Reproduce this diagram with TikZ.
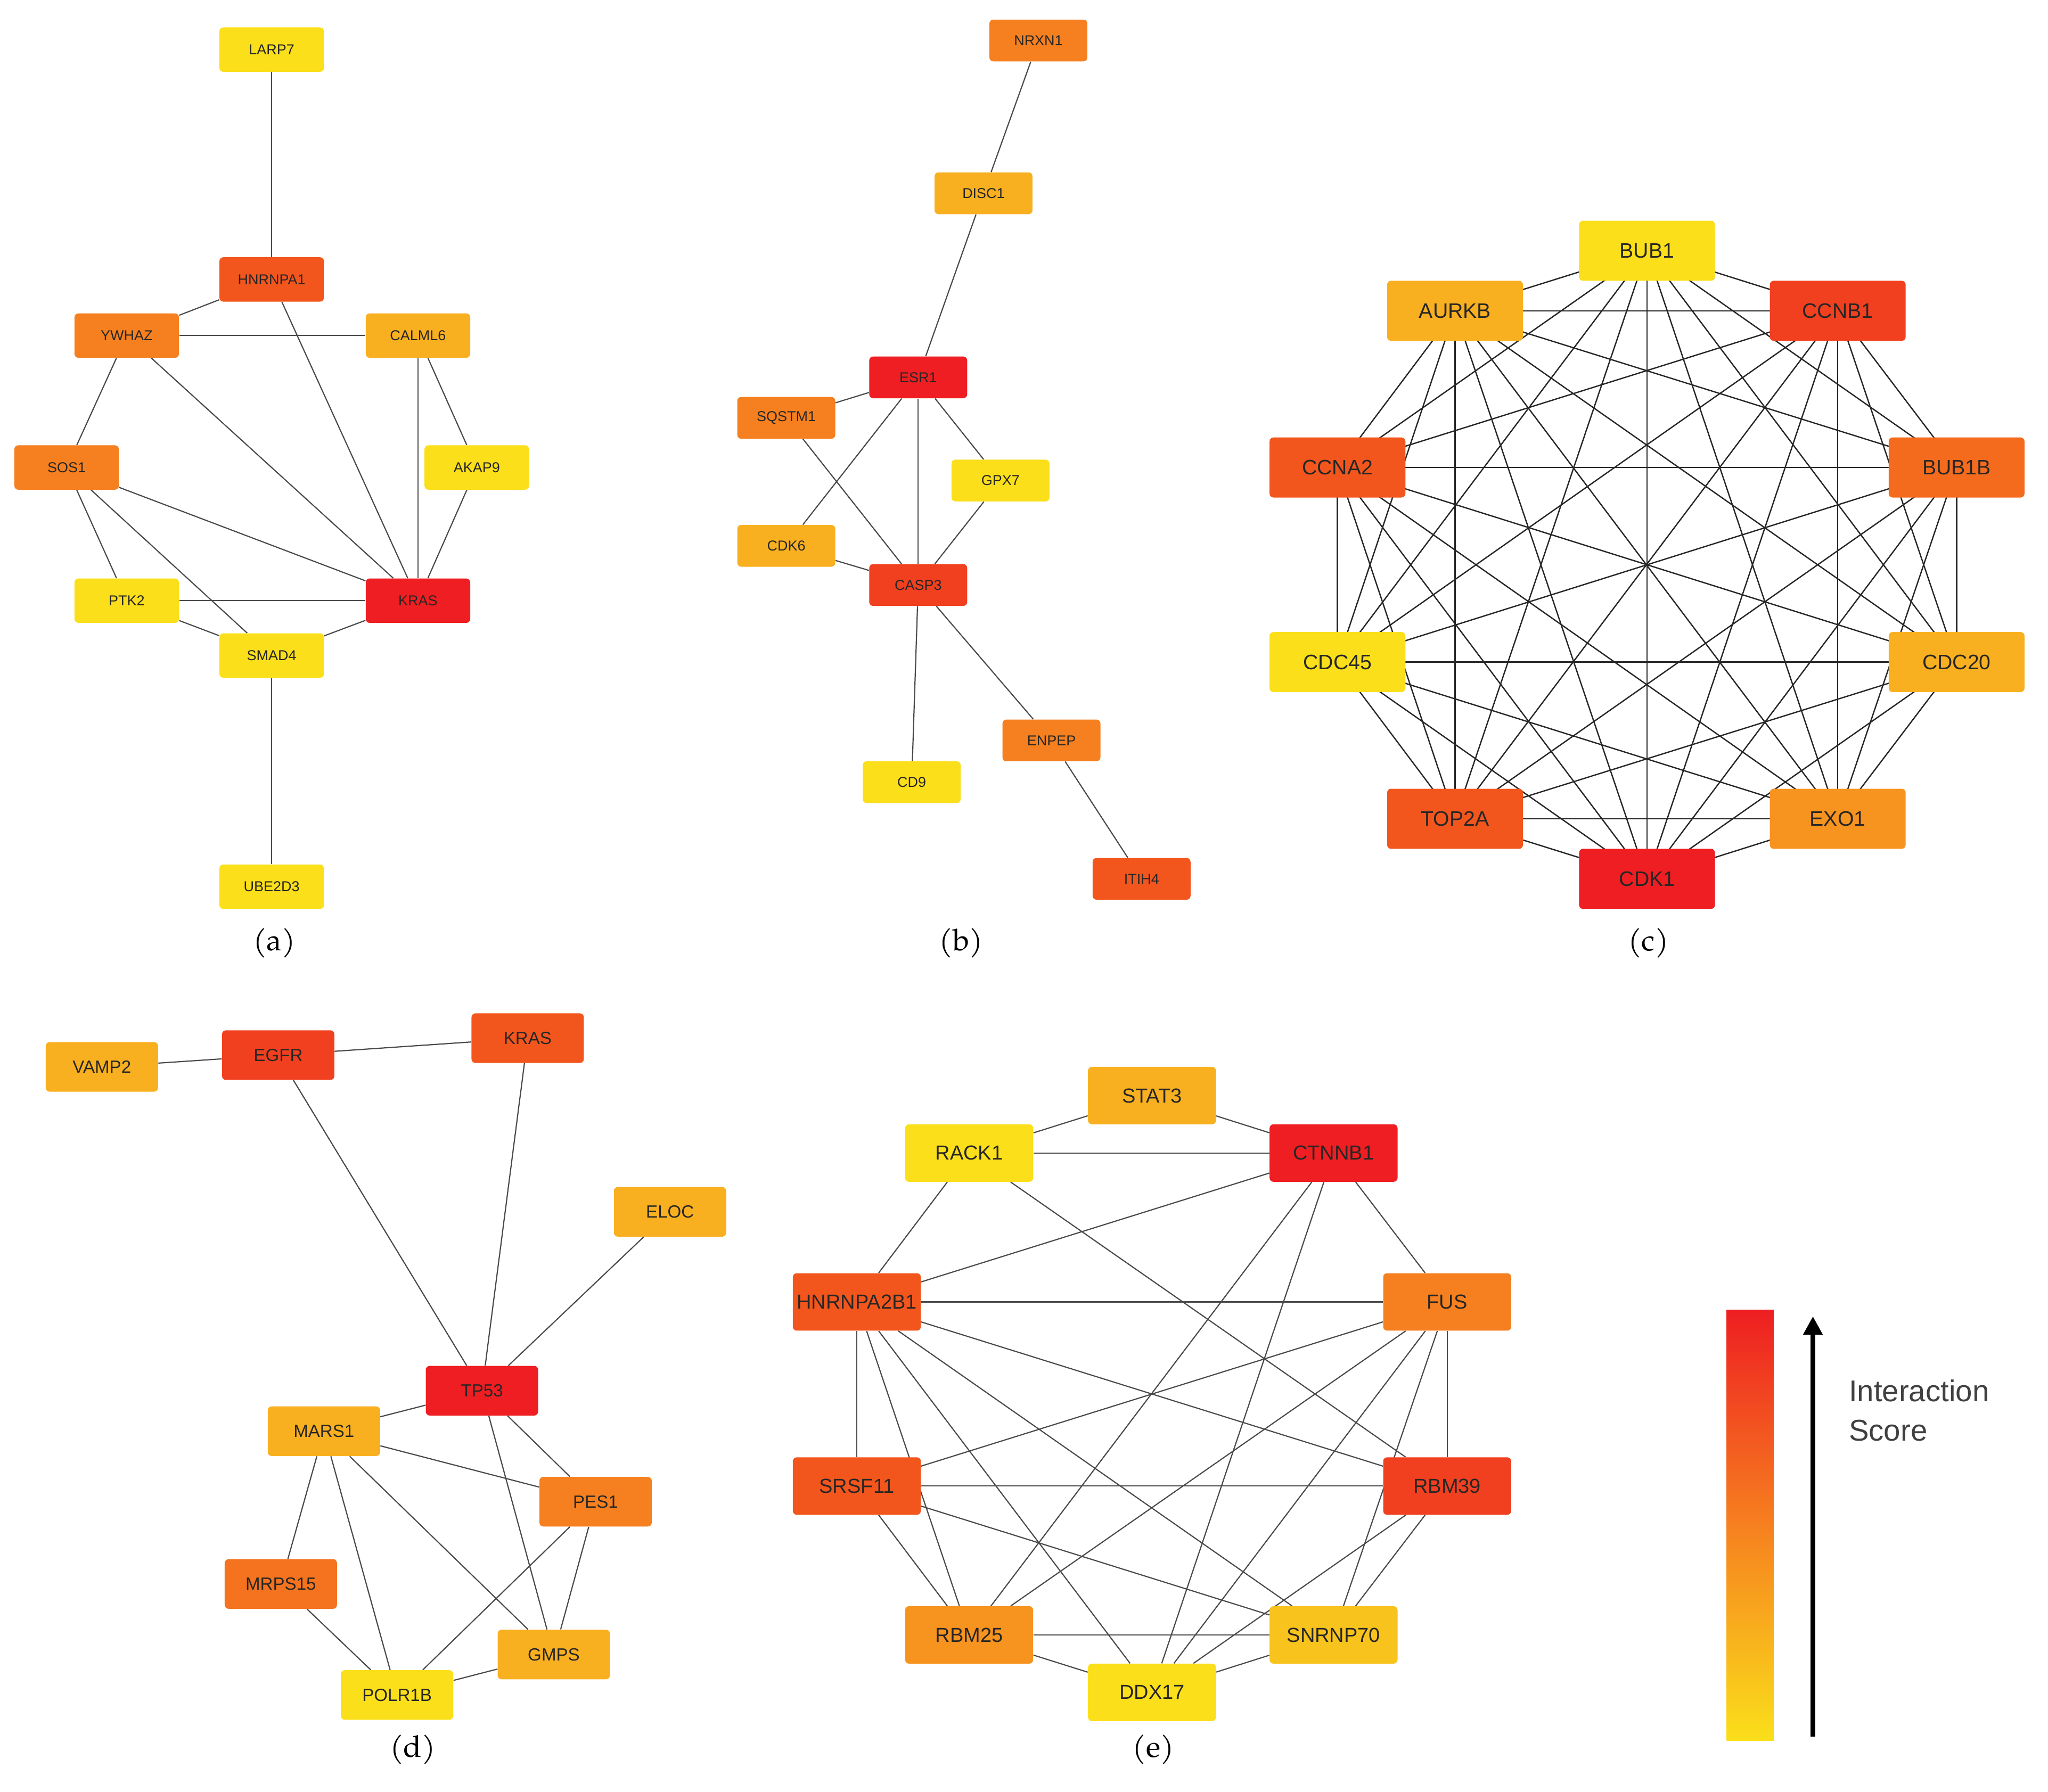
\documentclass[tikz,border=0pt]{standalone}
\usepackage{fontspec}
\setmainfont{Liberation Sans}
\newfontfamily\capfont{TeX Gyre Pagella}
\usetikzlibrary{backgrounds,arrows.meta}
\definecolor{cY}{HTML}{FADF1A}
\definecolor{cL}{HTML}{F9B020}
\definecolor{cO}{HTML}{F6801F}
\definecolor{cR}{HTML}{F3561D}
\definecolor{cX}{HTML}{EE1E22}
\definecolor{edge}{HTML}{4A4A4A}
\tikzset{
 nd/.style={rectangle,rounded corners=3pt,inner sep=0pt,text=black!85},
 sa/.style={nd,minimum width=80pt,minimum height=34pt,font=\fontsize{11}{12}\selectfont},
 sb/.style={nd,minimum width=75pt,minimum height=32pt,font=\fontsize{11}{12}\selectfont},
 sc/.style={nd,minimum width=104pt,minimum height=46pt,font=\fontsize{16}{18}\selectfont},
 sd/.style={nd,minimum width=86pt,minimum height=38pt,font=\fontsize{13.5}{15}\selectfont},
 se/.style={nd,minimum width=98pt,minimum height=44pt,font=\fontsize{15.5}{17}\selectfont},
 ed/.style={draw=edge,line width=0.9pt},
 edc/.style={draw=black!85,line width=1pt},
 capt/.style={font=\capfont\fontsize{23}{26}\selectfont},
}
\begin{document}
\begin{tikzpicture}[x=1pt,y=-1pt]
\useasboundingbox (0,0) rectangle (1568,1372);
% (a)
\node[sa,fill=cY] (aLARP7) at (208,38) {LARP7};
\node[sa,fill=cR] (aHNRNPA1) at (208,214) {HNRNPA1};
\node[sa,fill=cO] (aYWHAZ) at (97,257) {YWHAZ};
\node[sa,fill=cL] (aCALML6) at (320,257) {CALML6};
\node[sa,fill=cO] (aSOS1) at (51,358) {SOS1};
\node[sa,fill=cY] (aAKAP9) at (365,358) {AKAP9};
\node[sa,fill=cY] (aPTK2) at (97,460) {PTK2};
\node[sa,fill=cX] (aKRAS) at (320,460) {KRAS};
\node[sa,fill=cY] (aSMAD4) at (208,502) {SMAD4};
\node[sa,fill=cY] (aUBE2D3) at (208,679) {UBE2D3};
% (b)
\node[sb,fill=cO] (bNRXN1) at (795,31) {NRXN1};
\node[sb,fill=cL] (bDISC1) at (753,148) {DISC1};
\node[sb,fill=cX] (bESR1) at (703,289) {ESR1};
\node[sb,fill=cO] (bSQSTM1) at (602,320) {SQSTM1};
\node[sb,fill=cY] (bGPX7) at (766,368) {GPX7};
\node[sb,fill=cL] (bCDK6) at (602,418) {CDK6};
\node[sb,fill=cR!60!cX] (bCASP3) at (703,448) {CASP3};
\node[sb,fill=cO] (bENPEP) at (805,567) {ENPEP};
\node[sb,fill=cY] (bCD9) at (698,599) {CD9};
\node[sb,fill=cR] (bITIH4) at (874,673) {ITIH4};
% (c)
\node[sc,fill=cY] (c1) at (1261,192) {BUB1};
\node[sc,fill=cR!60!cX] (c2) at (1407,238) {CCNB1};
\node[sc,fill=cR!50!cO] (c3) at (1498,358) {BUB1B};
\node[sc,fill=cL] (c4) at (1498,507) {CDC20};
\node[sc,fill=cO!60!cL] (c5) at (1407,627) {EXO1};
\node[sc,fill=cX] (c6) at (1261,673) {CDK1};
\node[sc,fill=cR] (c7) at (1114,627) {TOP2A};
\node[sc,fill=cY] (c8) at (1024,507) {CDC45};
\node[sc,fill=cR] (c9) at (1024,358) {CCNA2};
\node[sc,fill=cL] (c10) at (1114,238) {AURKB};
% (d)
\node[sd,fill=cL] (dVAMP2) at (78,817) {VAMP2};
\node[sd,fill=cR!60!cX] (dEGFR) at (213,808) {EGFR};
\node[sd,fill=cR] (dKRAS) at (404,795) {KRAS};
\node[sd,fill=cL] (dELOC) at (513,928) {ELOC};
\node[sd,fill=cX] (dTP53) at (369,1065) {TP53};
\node[sd,fill=cL] (dMARS1) at (248,1096) {MARS1};
\node[sd,fill=cO] (dPES1) at (456,1150) {PES1};
\node[sd,fill=cO!70!cR] (dMRPS15) at (215,1213) {MRPS15};
\node[sd,fill=cL] (dGMPS) at (424,1267) {GMPS};
\node[sd,fill=cY] (dPOLR1B) at (304,1298) {POLR1B};
% (e)
\node[se,fill=cL] (eSTAT3) at (882,839) {STAT3};
\node[se,fill=cY] (eRACK1) at (742,883) {RACK1};
\node[se,fill=cX] (eCTNNB1) at (1021,883) {CTNNB1};
\node[se,fill=cR] (eHNRNPA2B1) at (656,997) {HNRNPA2B1};
\node[se,fill=cO] (eFUS) at (1108,997) {FUS};
\node[se,fill=cR] (eSRSF11) at (656,1138) {SRSF11};
\node[se,fill=cR!60!cX] (eRBM39) at (1108,1138) {RBM39};
\node[se,fill=cO!60!cL] (eRBM25) at (742,1252) {RBM25};
\node[se,fill=cL!60!cY] (eSNRNP70) at (1021,1252) {SNRNP70};
\node[se,fill=cY] (eDDX17) at (882,1296) {DDX17};
\begin{pgfonlayer}{background}
\foreach \u/\v in {LARP7/HNRNPA1,HNRNPA1/YWHAZ,HNRNPA1/KRAS,YWHAZ/CALML6,YWHAZ/SOS1,YWHAZ/KRAS,CALML6/KRAS,CALML6/AKAP9,AKAP9/KRAS,SOS1/KRAS,SOS1/PTK2,SOS1/SMAD4,PTK2/KRAS,PTK2/SMAD4,SMAD4/KRAS,SMAD4/UBE2D3}
  \draw[ed] (a\u) -- (a\v);
\foreach \u/\v in {NRXN1/DISC1,DISC1/ESR1,ESR1/SQSTM1,ESR1/CDK6,ESR1/CASP3,ESR1/GPX7,SQSTM1/CASP3,CDK6/CASP3,GPX7/CASP3,CASP3/CD9,CASP3/ENPEP,ENPEP/ITIH4}
  \draw[ed] (b\u) -- (b\v);
\foreach \i in {1,...,9}{
  \pgfmathtruncatemacro{\s}{\i+1}
  \foreach \j in {\s,...,10} \draw[edc] (c\i.center) -- (c\j.center);
}
\foreach \u/\v in {VAMP2/EGFR,EGFR/KRAS,EGFR/TP53,KRAS/TP53,ELOC/TP53,TP53/MARS1,TP53/PES1,TP53/GMPS,MARS1/PES1,MARS1/MRPS15,MARS1/POLR1B,MARS1/GMPS,PES1/GMPS,PES1/POLR1B,MRPS15/POLR1B,POLR1B/GMPS}
  \draw[ed] (d\u) -- (d\v);
\foreach \u/\v in {STAT3/RACK1,STAT3/CTNNB1,RACK1/CTNNB1,RACK1/HNRNPA2B1,RACK1/RBM39,CTNNB1/HNRNPA2B1,CTNNB1/FUS,CTNNB1/DDX17,CTNNB1/RBM25,HNRNPA2B1/FUS,HNRNPA2B1/SRSF11,HNRNPA2B1/RBM25,HNRNPA2B1/DDX17,HNRNPA2B1/SNRNP70,HNRNPA2B1/RBM39,FUS/SRSF11,FUS/RBM25,FUS/DDX17,FUS/SNRNP70,FUS/RBM39,SRSF11/RBM39,SRSF11/RBM25,SRSF11/SNRNP70,RBM39/DDX17,RBM39/SNRNP70,RBM25/SNRNP70,RBM25/DDX17,SNRNP70/DDX17}
  \draw[ed] (e\u) -- (e\v);
\end{pgfonlayer}
% captions
\node[capt] (la) at (210,722) {(a)};
\node[capt] (lb) at (736,722) {(b)};
\node[capt] (lc) at (1262,722) {(c)};
\node[capt] (ld) at (316,1340) {(d)};
\node[capt] (le) at (883,1340) {(e)};
% colour bar
\shade[top color=cX, bottom color=cY, middle color=cO] (1322,1003) rectangle (1358,1333);
\coordinate (arS) at (1388,1330);
\coordinate (arE) at (1388,1008);
\draw[black,line width=4pt,-{Triangle[length=14pt,width=14pt]}] (arS) -- (arE);
\node[anchor=west,align=left,font=\fontsize{23}{30}\selectfont,text=black!75] (lg) at (1412,1080) {Interaction\\Score};
\end{tikzpicture}
\end{document}
